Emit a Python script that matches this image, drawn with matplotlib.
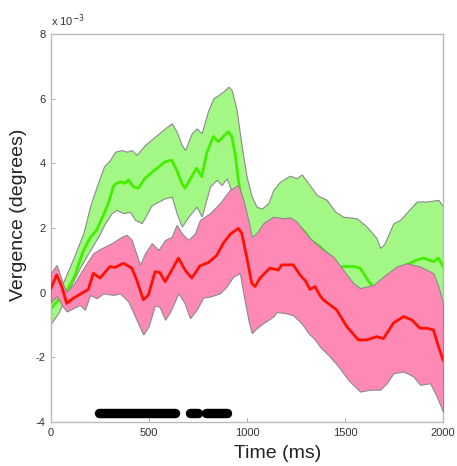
import matplotlib
matplotlib.use("Agg")
import matplotlib.pyplot as plt
import numpy as np

plt.rcParams['font.family'] = ['Liberation Sans', 'DejaVu Sans']

# ---- data (values in units of 1e-3 degrees) ----
green_mean_t = [0, 40, 80, 120, 165, 200, 233, 260, 293, 318, 332, 361, 378, 395, 420, 446, 480, 531, 582, 616, 641, 667, 684, 718, 743, 769, 794, 828, 854, 879, 905, 922, 939, 956, 973, 1000, 1040, 1080, 1130, 1180, 1230, 1262, 1300, 1321, 1372, 1407, 1423, 1474, 1491, 1543, 1577, 1594, 1628, 1640, 1680, 1720, 1760, 1810, 1866, 1900, 1951, 1977, 2000]
green_mean_v = [-0.5, -0.2, 0.05, 0.5, 1.3, 1.7, 1.94, 2.3, 2.77, 3.28, 3.38, 3.43, 3.38, 3.49, 3.28, 3.23, 3.54, 3.80, 4.05, 4.10, 3.80, 3.38, 3.23, 3.59, 3.85, 3.59, 4.31, 4.83, 4.67, 4.83, 4.98, 4.83, 4.31, 3.49, 2.77, 1.9, 1.0, 0.95, 1.4, 1.8, 1.95, 2.05, 1.85, 1.65, 1.42, 1.22, 1.12, 0.78, 0.81, 0.81, 0.76, 0.60, 0.29, 0.2, 0.05, 0.2, 0.55, 0.85, 1.01, 1.07, 0.96, 1.07, 0.81]

green_up_t = [0, 60, 110, 165, 199, 233, 270, 301, 327, 361, 386, 412, 437, 480, 531, 582, 616, 641, 667, 684, 718, 743, 769, 800, 828, 854, 879, 905, 922, 947, 973, 998, 1024, 1049, 1075, 1109, 1134, 1168, 1219, 1253, 1279, 1313, 1356, 1407, 1449, 1491, 1560, 1611, 1662, 1679, 1700, 1747, 1781, 1866, 1917, 1977, 2000]
green_up_v = [-0.1, 0.3, 1.0, 1.84, 2.66, 3.28, 3.9, 4.1, 4.36, 4.41, 4.36, 4.41, 4.26, 4.57, 4.83, 5.08, 5.24, 4.98, 4.57, 4.41, 4.93, 5.08, 4.93, 5.6, 6.01, 6.11, 6.22, 6.37, 6.27, 5.65, 4.52, 3.59, 2.97, 2.66, 2.6, 2.77, 3.18, 3.43, 3.62, 3.54, 3.66, 3.38, 3.02, 2.87, 2.51, 2.35, 2.30, 2.04, 1.68, 1.38, 1.5, 2.15, 2.25, 2.82, 2.82, 2.87, 2.66]

green_lo_t = [0, 37, 100, 150, 190, 241, 276, 310, 335, 369, 403, 429, 463, 514, 582, 616, 641, 667, 701, 743, 769, 811, 845, 871, 896, 930, 960, 1000, 1050, 1100, 1200, 1300, 1400, 1500, 1600, 1700, 1800, 1900, 2000]
green_lo_v = [-0.95, -0.63, 0.2, 0.8, 1.22, 1.73, 2.15, 2.46, 2.56, 2.46, 2.5, 2.25, 2.15, 2.71, 2.92, 2.97, 2.46, 2.04, 2.35, 2.66, 2.35, 3.28, 3.49, 3.33, 3.54, 3.0, 2.0, 0.5, -0.5, -0.7, -0.2, -0.3, -0.4, -0.6, -0.4, -0.2, -0.1, -0.2, -0.8]

red_mean_t = [0, 29, 55, 80, 114, 157, 190, 216, 250, 301, 326, 369, 412, 437, 471, 497, 531, 556, 582, 607, 650, 684, 718, 760, 803, 845, 879, 913, 956, 973, 998, 1024, 1041, 1066, 1117, 1160, 1177, 1202, 1236, 1270, 1300, 1321, 1347, 1370, 1389, 1457, 1509, 1568, 1611, 1662, 1696, 1747, 1798, 1840, 1883, 1917, 1951, 1977, 2000]
red_mean_v = [0.14, 0.55, 0.19, -0.33, -0.17, -0.02, 0.1, 0.60, 0.45, 0.81, 0.78, 0.91, 0.76, 0.40, -0.22, -0.07, 0.65, 0.62, 0.34, 0.60, 1.07, 0.70, 0.45, 0.83, 0.93, 1.15, 1.53, 1.8, 1.99, 1.84, 1.12, 0.29, 0.19, 0.45, 0.76, 0.70, 0.86, 0.86, 0.86, 0.55, 0.35, 0.1, 0.19, -0.07, -0.22, -0.53, -1.05, -1.46, -1.46, -1.36, -1.42, -0.94, -0.74, -0.84, -1.10, -1.10, -1.15, -1.67, -2.08]

red_up_t = [0, 29, 63, 80, 120, 170, 216, 250, 310, 361, 386, 412, 454, 480, 514, 548, 582, 616, 641, 667, 701, 735, 760, 811, 862, 913, 956, 981, 1007, 1024, 1049, 1083, 1134, 1185, 1219, 1253, 1287, 1321, 1389, 1440, 1491, 1543, 1577, 1645, 1696, 1764, 1815, 1883, 1951, 1977, 2000]
red_up_v = [0.62, 0.86, 0.24, 0.03, 0.3, 0.8, 1.22, 1.35, 1.53, 1.73, 1.79, 1.63, 0.86, 1.22, 1.53, 1.32, 1.63, 1.73, 2.1, 1.84, 1.63, 1.84, 2.25, 2.46, 2.77, 3.18, 3.33, 2.87, 2.25, 1.73, 1.84, 2.15, 2.35, 2.30, 2.33, 2.20, 1.94, 1.68, 1.32, 1.12, 0.70, 0.29, 0.14, 0.24, 0.50, 0.81, 0.91, 0.81, 0.60, 0.19, -0.33]

red_lo_t = [0, 29, 55, 80, 114, 148, 173, 199, 233, 267, 318, 352, 395, 429, 471, 497, 531, 555, 582, 607, 650, 680, 709, 743, 777, 811, 862, 896, 930, 964, 981, 1007, 1024, 1049, 1083, 1134, 1151, 1194, 1236, 1279, 1313, 1347, 1372, 1423, 1466, 1517, 1577, 1628, 1679, 1713, 1747, 1798, 1849, 1883, 1934, 1968, 2000]
red_lo_v = [-0.3, -0.1, -0.38, -0.58, -0.48, -0.38, -0.53, -0.07, -0.17, -0.02, -0.07, -0.02, -0.28, -0.74, -1.30, -1.05, -0.38, -0.45, -0.84, -0.6, -0.02, -0.3, -0.79, -0.53, -0.15, -0.12, -0.02, 0.19, 0.50, 0.60, -0.02, -0.84, -1.25, -1.10, -0.94, -0.74, -0.6, -0.63, -0.7, -0.95, -1.25, -1.45, -1.67, -1.98, -2.28, -2.70, -3.06, -3.0, -3.0, -2.80, -2.49, -2.44, -2.59, -2.85, -2.80, -3.21, -3.68]

sig_segments = [(247, 632), (708, 752), (793, 899)]
sig_level = -3.72

xticks = [0, 500, 1000, 1500, 2000]
yticks = [8, 6, 4, 2, 0, -2, -4]
ytick_labels = ['8', '6', '4', '2', '0', '-2', '-4']

# ---- figure ----
fig = plt.figure(figsize=(4.57, 4.66), dpi=100)
ax = fig.add_axes([0.1116, 0.0944, 0.8578, 0.8326])

edge = '#8a8a8a'
grid_t = np.linspace(0, 2000, 801)

def interp(t, v):
    return np.interp(grid_t, t, v)

gu = interp(green_up_t, green_up_v)
gl = interp(green_lo_t, green_lo_v)
ax.fill_between(grid_t, gl, gu, facecolor='#a3f885', edgecolor=edge, linewidth=0.8, zorder=1)
ax.plot(green_mean_t, green_mean_v, color='#44ee00', lw=2.0, zorder=2)

ru = interp(red_up_t, red_up_v)
rl = interp(red_lo_t, red_lo_v)
ax.fill_between(grid_t, rl, ru, facecolor='#ff89b5', edgecolor=edge, linewidth=0.8, zorder=3)
ax.plot(red_mean_t, red_mean_v, color='#ff1100', lw=2.0, zorder=4)

for a, b in sig_segments:
    ax.plot([a, b], [sig_level, sig_level], color='black', lw=6.8,
            solid_capstyle='round', zorder=5)

ax.set_xlim(0, 2000)
ax.set_ylim(-4, 8)
ax.set_xticks(xticks)
ax.set_yticks(yticks)
ax.set_yticklabels(ytick_labels)
ax.tick_params(direction='in', length=3, width=0.6, colors='#999999',
               labelcolor='#333333', labelsize=8, pad=4)
for s in ax.spines.values():
    s.set_color('#bbbbbb')
    s.set_linewidth(1.0)

ax.set_xlabel('Time (ms)', fontsize=14, color='#222222')
ax.set_ylabel('Vergence (degrees)', fontsize=14, color='#222222')
ax.xaxis.set_label_coords(0.577, -0.058)
ax.yaxis.set_label_coords(-0.062, 0.534)
ax.text(0.0, 1.012, r'x 10$^{-3}$', transform=ax.transAxes, fontsize=8,
        color='#333333', ha='left', va='bottom')

fig.savefig('out.png', dpi=100)
